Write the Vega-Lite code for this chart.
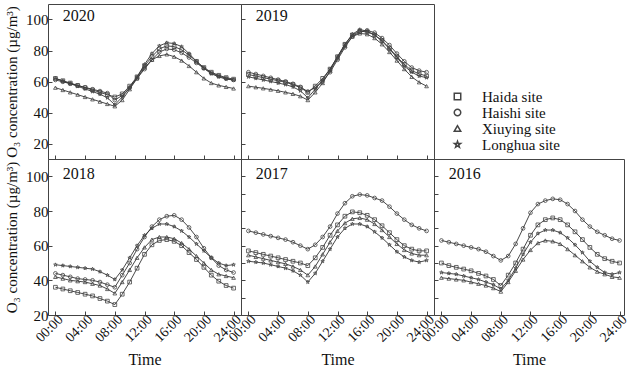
{
"$schema": "https://vega.github.io/schema/vega-lite/v6.json",
"background": "white",
"padding": {"left": 3, "top": 3, "right": 2, "bottom": 0},
"config": {
  "font": "Liberation Serif",
  "view": {"stroke": "#444", "strokeWidth": 1},
  "axis": {"grid": false, "domain": false, "tickColor": "#444", "tickSize": -4, "labelFont": "Liberation Serif", "labelFontSize": 15, "labelColor": "#111", "titleFont": "Liberation Serif", "titleFontSize": 15, "titleFontWeight": "normal", "titleColor": "#111", "labelPadding": 4},
  "legend": {"orient": "none", "legendX": 402, "legendY": 85, "labelFont": "Liberation Serif", "labelFontSize": 15, "labelColor": "#111", "labelOffset": 17, "symbolSize": 42, "rowPadding": 0}
},
"datasets": {
"lab": [
{"yr":2020,"h":1,"v":102.5},{"yr":2019,"h":1,"v":102.5},{"yr":2018,"h":1,"v":101.5},{"yr":2017,"h":1,"v":101.5},{"yr":2016,"h":1,"v":101.5}
],
"d": [
{"yr":2020,"site":"Haida site","h":0,"v":62},{"yr":2020,"site":"Haida site","h":1,"v":60.5},{"yr":2020,"site":"Haida site","h":2,"v":59},{"yr":2020,"site":"Haida site","h":3,"v":57.5},{"yr":2020,"site":"Haida site","h":4,"v":56},{"yr":2020,"site":"Haida site","h":5,"v":54.5},{"yr":2020,"site":"Haida site","h":6,"v":53},{"yr":2020,"site":"Haida site","h":7,"v":51.5},{"yr":2020,"site":"Haida site","h":8,"v":50},{"yr":2020,"site":"Haida site","h":9,"v":52},{"yr":2020,"site":"Haida site","h":10,"v":57},{"yr":2020,"site":"Haida site","h":11,"v":63},{"yr":2020,"site":"Haida site","h":12,"v":70},{"yr":2020,"site":"Haida site","h":13,"v":76},{"yr":2020,"site":"Haida site","h":14,"v":81},{"yr":2020,"site":"Haida site","h":15,"v":83},{"yr":2020,"site":"Haida site","h":16,"v":82.5},{"yr":2020,"site":"Haida site","h":17,"v":80.5},{"yr":2020,"site":"Haida site","h":18,"v":77},{"yr":2020,"site":"Haida site","h":19,"v":73},{"yr":2020,"site":"Haida site","h":20,"v":69},{"yr":2020,"site":"Haida site","h":21,"v":66},{"yr":2020,"site":"Haida site","h":22,"v":64},{"yr":2020,"site":"Haida site","h":23,"v":62.5},{"yr":2020,"site":"Haida site","h":24,"v":61.5},
{"yr":2020,"site":"Haishi site","h":0,"v":61},{"yr":2020,"site":"Haishi site","h":1,"v":59.8},{"yr":2020,"site":"Haishi site","h":2,"v":58.6},{"yr":2020,"site":"Haishi site","h":3,"v":57.4},{"yr":2020,"site":"Haishi site","h":4,"v":56.2},{"yr":2020,"site":"Haishi site","h":5,"v":55},{"yr":2020,"site":"Haishi site","h":6,"v":53.8},{"yr":2020,"site":"Haishi site","h":7,"v":52.5},{"yr":2020,"site":"Haishi site","h":8,"v":48},{"yr":2020,"site":"Haishi site","h":9,"v":51},{"yr":2020,"site":"Haishi site","h":10,"v":56},{"yr":2020,"site":"Haishi site","h":11,"v":62},{"yr":2020,"site":"Haishi site","h":12,"v":68},{"yr":2020,"site":"Haishi site","h":13,"v":74},{"yr":2020,"site":"Haishi site","h":14,"v":79},{"yr":2020,"site":"Haishi site","h":15,"v":81},{"yr":2020,"site":"Haishi site","h":16,"v":80.5},{"yr":2020,"site":"Haishi site","h":17,"v":78.5},{"yr":2020,"site":"Haishi site","h":18,"v":75.5},{"yr":2020,"site":"Haishi site","h":19,"v":72},{"yr":2020,"site":"Haishi site","h":20,"v":68.5},{"yr":2020,"site":"Haishi site","h":21,"v":65.5},{"yr":2020,"site":"Haishi site","h":22,"v":63.5},{"yr":2020,"site":"Haishi site","h":23,"v":62},{"yr":2020,"site":"Haishi site","h":24,"v":61},
{"yr":2020,"site":"Xiuying site","h":0,"v":56},{"yr":2020,"site":"Xiuying site","h":1,"v":54.5},{"yr":2020,"site":"Xiuying site","h":2,"v":53},{"yr":2020,"site":"Xiuying site","h":3,"v":51.5},{"yr":2020,"site":"Xiuying site","h":4,"v":50},{"yr":2020,"site":"Xiuying site","h":5,"v":48.5},{"yr":2020,"site":"Xiuying site","h":6,"v":47},{"yr":2020,"site":"Xiuying site","h":7,"v":45.5},{"yr":2020,"site":"Xiuying site","h":8,"v":44},{"yr":2020,"site":"Xiuying site","h":9,"v":48},{"yr":2020,"site":"Xiuying site","h":10,"v":55},{"yr":2020,"site":"Xiuying site","h":11,"v":62},{"yr":2020,"site":"Xiuying site","h":12,"v":69},{"yr":2020,"site":"Xiuying site","h":13,"v":74},{"yr":2020,"site":"Xiuying site","h":14,"v":76.5},{"yr":2020,"site":"Xiuying site","h":15,"v":77.5},{"yr":2020,"site":"Xiuying site","h":16,"v":76},{"yr":2020,"site":"Xiuying site","h":17,"v":73.5},{"yr":2020,"site":"Xiuying site","h":18,"v":70},{"yr":2020,"site":"Xiuying site","h":19,"v":66},{"yr":2020,"site":"Xiuying site","h":20,"v":62},{"yr":2020,"site":"Xiuying site","h":21,"v":59},{"yr":2020,"site":"Xiuying site","h":22,"v":57.5},{"yr":2020,"site":"Xiuying site","h":23,"v":56.5},{"yr":2020,"site":"Xiuying site","h":24,"v":55.5},
{"yr":2020,"site":"Longhua site","h":0,"v":62},{"yr":2020,"site":"Longhua site","h":1,"v":60.3},{"yr":2020,"site":"Longhua site","h":2,"v":58.6},{"yr":2020,"site":"Longhua site","h":3,"v":56.9},{"yr":2020,"site":"Longhua site","h":4,"v":55.2},{"yr":2020,"site":"Longhua site","h":5,"v":53.5},{"yr":2020,"site":"Longhua site","h":6,"v":51.8},{"yr":2020,"site":"Longhua site","h":7,"v":49.5},{"yr":2020,"site":"Longhua site","h":8,"v":45},{"yr":2020,"site":"Longhua site","h":9,"v":50},{"yr":2020,"site":"Longhua site","h":10,"v":56},{"yr":2020,"site":"Longhua site","h":11,"v":63},{"yr":2020,"site":"Longhua site","h":12,"v":71},{"yr":2020,"site":"Longhua site","h":13,"v":78},{"yr":2020,"site":"Longhua site","h":14,"v":83},{"yr":2020,"site":"Longhua site","h":15,"v":85},{"yr":2020,"site":"Longhua site","h":16,"v":84.5},{"yr":2020,"site":"Longhua site","h":17,"v":82.5},{"yr":2020,"site":"Longhua site","h":18,"v":78},{"yr":2020,"site":"Longhua site","h":19,"v":73},{"yr":2020,"site":"Longhua site","h":20,"v":68.5},{"yr":2020,"site":"Longhua site","h":21,"v":65},{"yr":2020,"site":"Longhua site","h":22,"v":63},{"yr":2020,"site":"Longhua site","h":23,"v":61.5},{"yr":2020,"site":"Longhua site","h":24,"v":61},
{"yr":2019,"site":"Haida site","h":0,"v":64.5},{"yr":2019,"site":"Haida site","h":1,"v":63.5},{"yr":2019,"site":"Haida site","h":2,"v":62.5},{"yr":2019,"site":"Haida site","h":3,"v":61.5},{"yr":2019,"site":"Haida site","h":4,"v":60.5},{"yr":2019,"site":"Haida site","h":5,"v":59.5},{"yr":2019,"site":"Haida site","h":6,"v":58},{"yr":2019,"site":"Haida site","h":7,"v":56},{"yr":2019,"site":"Haida site","h":8,"v":53},{"yr":2019,"site":"Haida site","h":9,"v":57},{"yr":2019,"site":"Haida site","h":10,"v":62},{"yr":2019,"site":"Haida site","h":11,"v":68},{"yr":2019,"site":"Haida site","h":12,"v":76},{"yr":2019,"site":"Haida site","h":13,"v":84},{"yr":2019,"site":"Haida site","h":14,"v":90},{"yr":2019,"site":"Haida site","h":15,"v":92.5},{"yr":2019,"site":"Haida site","h":16,"v":92},{"yr":2019,"site":"Haida site","h":17,"v":90},{"yr":2019,"site":"Haida site","h":18,"v":86.5},{"yr":2019,"site":"Haida site","h":19,"v":81.5},{"yr":2019,"site":"Haida site","h":20,"v":76},{"yr":2019,"site":"Haida site","h":21,"v":71},{"yr":2019,"site":"Haida site","h":22,"v":67},{"yr":2019,"site":"Haida site","h":23,"v":65},{"yr":2019,"site":"Haida site","h":24,"v":63.5},
{"yr":2019,"site":"Haishi site","h":0,"v":66},{"yr":2019,"site":"Haishi site","h":1,"v":64.8},{"yr":2019,"site":"Haishi site","h":2,"v":63.6},{"yr":2019,"site":"Haishi site","h":3,"v":62.4},{"yr":2019,"site":"Haishi site","h":4,"v":61.2},{"yr":2019,"site":"Haishi site","h":5,"v":60},{"yr":2019,"site":"Haishi site","h":6,"v":58.5},{"yr":2019,"site":"Haishi site","h":7,"v":56.5},{"yr":2019,"site":"Haishi site","h":8,"v":53.5},{"yr":2019,"site":"Haishi site","h":9,"v":56},{"yr":2019,"site":"Haishi site","h":10,"v":60},{"yr":2019,"site":"Haishi site","h":11,"v":66},{"yr":2019,"site":"Haishi site","h":12,"v":74},{"yr":2019,"site":"Haishi site","h":13,"v":82},{"yr":2019,"site":"Haishi site","h":14,"v":89},{"yr":2019,"site":"Haishi site","h":15,"v":92},{"yr":2019,"site":"Haishi site","h":16,"v":93},{"yr":2019,"site":"Haishi site","h":17,"v":91.5},{"yr":2019,"site":"Haishi site","h":18,"v":88},{"yr":2019,"site":"Haishi site","h":19,"v":83.5},{"yr":2019,"site":"Haishi site","h":20,"v":78},{"yr":2019,"site":"Haishi site","h":21,"v":73},{"yr":2019,"site":"Haishi site","h":22,"v":69},{"yr":2019,"site":"Haishi site","h":23,"v":67},{"yr":2019,"site":"Haishi site","h":24,"v":66},
{"yr":2019,"site":"Xiuying site","h":0,"v":57},{"yr":2019,"site":"Xiuying site","h":1,"v":56.3},{"yr":2019,"site":"Xiuying site","h":2,"v":55.6},{"yr":2019,"site":"Xiuying site","h":3,"v":54.8},{"yr":2019,"site":"Xiuying site","h":4,"v":54},{"yr":2019,"site":"Xiuying site","h":5,"v":53},{"yr":2019,"site":"Xiuying site","h":6,"v":52},{"yr":2019,"site":"Xiuying site","h":7,"v":50.5},{"yr":2019,"site":"Xiuying site","h":8,"v":48},{"yr":2019,"site":"Xiuying site","h":9,"v":53},{"yr":2019,"site":"Xiuying site","h":10,"v":59},{"yr":2019,"site":"Xiuying site","h":11,"v":67},{"yr":2019,"site":"Xiuying site","h":12,"v":75},{"yr":2019,"site":"Xiuying site","h":13,"v":83},{"yr":2019,"site":"Xiuying site","h":14,"v":89},{"yr":2019,"site":"Xiuying site","h":15,"v":91},{"yr":2019,"site":"Xiuying site","h":16,"v":90.5},{"yr":2019,"site":"Xiuying site","h":17,"v":88},{"yr":2019,"site":"Xiuying site","h":18,"v":84},{"yr":2019,"site":"Xiuying site","h":19,"v":79},{"yr":2019,"site":"Xiuying site","h":20,"v":73.5},{"yr":2019,"site":"Xiuying site","h":21,"v":68},{"yr":2019,"site":"Xiuying site","h":22,"v":63},{"yr":2019,"site":"Xiuying site","h":23,"v":59.5},{"yr":2019,"site":"Xiuying site","h":24,"v":57},
{"yr":2019,"site":"Longhua site","h":0,"v":63},{"yr":2019,"site":"Longhua site","h":1,"v":62},{"yr":2019,"site":"Longhua site","h":2,"v":61},{"yr":2019,"site":"Longhua site","h":3,"v":60},{"yr":2019,"site":"Longhua site","h":4,"v":59},{"yr":2019,"site":"Longhua site","h":5,"v":58},{"yr":2019,"site":"Longhua site","h":6,"v":56.5},{"yr":2019,"site":"Longhua site","h":7,"v":54},{"yr":2019,"site":"Longhua site","h":8,"v":49.5},{"yr":2019,"site":"Longhua site","h":9,"v":55},{"yr":2019,"site":"Longhua site","h":10,"v":61},{"yr":2019,"site":"Longhua site","h":11,"v":68},{"yr":2019,"site":"Longhua site","h":12,"v":76},{"yr":2019,"site":"Longhua site","h":13,"v":84},{"yr":2019,"site":"Longhua site","h":14,"v":90.5},{"yr":2019,"site":"Longhua site","h":15,"v":93.5},{"yr":2019,"site":"Longhua site","h":16,"v":92.5},{"yr":2019,"site":"Longhua site","h":17,"v":90},{"yr":2019,"site":"Longhua site","h":18,"v":86},{"yr":2019,"site":"Longhua site","h":19,"v":81},{"yr":2019,"site":"Longhua site","h":20,"v":75.5},{"yr":2019,"site":"Longhua site","h":21,"v":70},{"yr":2019,"site":"Longhua site","h":22,"v":66},{"yr":2019,"site":"Longhua site","h":23,"v":63.5},{"yr":2019,"site":"Longhua site","h":24,"v":62.5},
{"yr":2018,"site":"Haida site","h":0,"v":36},{"yr":2018,"site":"Haida site","h":1,"v":35},{"yr":2018,"site":"Haida site","h":2,"v":34},{"yr":2018,"site":"Haida site","h":3,"v":33},{"yr":2018,"site":"Haida site","h":4,"v":32},{"yr":2018,"site":"Haida site","h":5,"v":31},{"yr":2018,"site":"Haida site","h":6,"v":29.5},{"yr":2018,"site":"Haida site","h":7,"v":28},{"yr":2018,"site":"Haida site","h":8,"v":26},{"yr":2018,"site":"Haida site","h":9,"v":32},{"yr":2018,"site":"Haida site","h":10,"v":39},{"yr":2018,"site":"Haida site","h":11,"v":47},{"yr":2018,"site":"Haida site","h":12,"v":55},{"yr":2018,"site":"Haida site","h":13,"v":60.5},{"yr":2018,"site":"Haida site","h":14,"v":63},{"yr":2018,"site":"Haida site","h":15,"v":63.5},{"yr":2018,"site":"Haida site","h":16,"v":62.5},{"yr":2018,"site":"Haida site","h":17,"v":60},{"yr":2018,"site":"Haida site","h":18,"v":56},{"yr":2018,"site":"Haida site","h":19,"v":52},{"yr":2018,"site":"Haida site","h":20,"v":47.5},{"yr":2018,"site":"Haida site","h":21,"v":43},{"yr":2018,"site":"Haida site","h":22,"v":39.5},{"yr":2018,"site":"Haida site","h":23,"v":37},{"yr":2018,"site":"Haida site","h":24,"v":35.5},
{"yr":2018,"site":"Haishi site","h":0,"v":44},{"yr":2018,"site":"Haishi site","h":1,"v":43},{"yr":2018,"site":"Haishi site","h":2,"v":42},{"yr":2018,"site":"Haishi site","h":3,"v":41},{"yr":2018,"site":"Haishi site","h":4,"v":40.5},{"yr":2018,"site":"Haishi site","h":5,"v":40},{"yr":2018,"site":"Haishi site","h":6,"v":39},{"yr":2018,"site":"Haishi site","h":7,"v":37.5},{"yr":2018,"site":"Haishi site","h":8,"v":36},{"yr":2018,"site":"Haishi site","h":9,"v":43},{"yr":2018,"site":"Haishi site","h":10,"v":50},{"yr":2018,"site":"Haishi site","h":11,"v":58},{"yr":2018,"site":"Haishi site","h":12,"v":65},{"yr":2018,"site":"Haishi site","h":13,"v":71},{"yr":2018,"site":"Haishi site","h":14,"v":75},{"yr":2018,"site":"Haishi site","h":15,"v":77},{"yr":2018,"site":"Haishi site","h":16,"v":77.5},{"yr":2018,"site":"Haishi site","h":17,"v":75},{"yr":2018,"site":"Haishi site","h":18,"v":70.5},{"yr":2018,"site":"Haishi site","h":19,"v":65},{"yr":2018,"site":"Haishi site","h":20,"v":58.5},{"yr":2018,"site":"Haishi site","h":21,"v":53},{"yr":2018,"site":"Haishi site","h":22,"v":48.5},{"yr":2018,"site":"Haishi site","h":23,"v":46},{"yr":2018,"site":"Haishi site","h":24,"v":44.5},
{"yr":2018,"site":"Xiuying site","h":0,"v":42},{"yr":2018,"site":"Xiuying site","h":1,"v":41},{"yr":2018,"site":"Xiuying site","h":2,"v":40},{"yr":2018,"site":"Xiuying site","h":3,"v":39.5},{"yr":2018,"site":"Xiuying site","h":4,"v":39},{"yr":2018,"site":"Xiuying site","h":5,"v":38},{"yr":2018,"site":"Xiuying site","h":6,"v":37},{"yr":2018,"site":"Xiuying site","h":7,"v":35},{"yr":2018,"site":"Xiuying site","h":8,"v":32.5},{"yr":2018,"site":"Xiuying site","h":9,"v":39},{"yr":2018,"site":"Xiuying site","h":10,"v":46},{"yr":2018,"site":"Xiuying site","h":11,"v":53},{"yr":2018,"site":"Xiuying site","h":12,"v":59},{"yr":2018,"site":"Xiuying site","h":13,"v":63.5},{"yr":2018,"site":"Xiuying site","h":14,"v":65},{"yr":2018,"site":"Xiuying site","h":15,"v":65},{"yr":2018,"site":"Xiuying site","h":16,"v":64},{"yr":2018,"site":"Xiuying site","h":17,"v":61.5},{"yr":2018,"site":"Xiuying site","h":18,"v":58},{"yr":2018,"site":"Xiuying site","h":19,"v":54},{"yr":2018,"site":"Xiuying site","h":20,"v":50},{"yr":2018,"site":"Xiuying site","h":21,"v":46},{"yr":2018,"site":"Xiuying site","h":22,"v":43.5},{"yr":2018,"site":"Xiuying site","h":23,"v":42.5},{"yr":2018,"site":"Xiuying site","h":24,"v":41.5},
{"yr":2018,"site":"Longhua site","h":0,"v":49},{"yr":2018,"site":"Longhua site","h":1,"v":48.5},{"yr":2018,"site":"Longhua site","h":2,"v":48},{"yr":2018,"site":"Longhua site","h":3,"v":47.5},{"yr":2018,"site":"Longhua site","h":4,"v":47},{"yr":2018,"site":"Longhua site","h":5,"v":46.5},{"yr":2018,"site":"Longhua site","h":6,"v":45},{"yr":2018,"site":"Longhua site","h":7,"v":43},{"yr":2018,"site":"Longhua site","h":8,"v":40.5},{"yr":2018,"site":"Longhua site","h":9,"v":46},{"yr":2018,"site":"Longhua site","h":10,"v":53},{"yr":2018,"site":"Longhua site","h":11,"v":60},{"yr":2018,"site":"Longhua site","h":12,"v":66},{"yr":2018,"site":"Longhua site","h":13,"v":70},{"yr":2018,"site":"Longhua site","h":14,"v":72.5},{"yr":2018,"site":"Longhua site","h":15,"v":72.5},{"yr":2018,"site":"Longhua site","h":16,"v":71},{"yr":2018,"site":"Longhua site","h":17,"v":68.5},{"yr":2018,"site":"Longhua site","h":18,"v":65},{"yr":2018,"site":"Longhua site","h":19,"v":61},{"yr":2018,"site":"Longhua site","h":20,"v":57},{"yr":2018,"site":"Longhua site","h":21,"v":53},{"yr":2018,"site":"Longhua site","h":22,"v":50},{"yr":2018,"site":"Longhua site","h":23,"v":48.5},{"yr":2018,"site":"Longhua site","h":24,"v":49},
{"yr":2017,"site":"Haida site","h":0,"v":57},{"yr":2017,"site":"Haida site","h":1,"v":56},{"yr":2017,"site":"Haida site","h":2,"v":55},{"yr":2017,"site":"Haida site","h":3,"v":54},{"yr":2017,"site":"Haida site","h":4,"v":53},{"yr":2017,"site":"Haida site","h":5,"v":52},{"yr":2017,"site":"Haida site","h":6,"v":51},{"yr":2017,"site":"Haida site","h":7,"v":50},{"yr":2017,"site":"Haida site","h":8,"v":48.5},{"yr":2017,"site":"Haida site","h":9,"v":53},{"yr":2017,"site":"Haida site","h":10,"v":59},{"yr":2017,"site":"Haida site","h":11,"v":66},{"yr":2017,"site":"Haida site","h":12,"v":72},{"yr":2017,"site":"Haida site","h":13,"v":77},{"yr":2017,"site":"Haida site","h":14,"v":79.5},{"yr":2017,"site":"Haida site","h":15,"v":79},{"yr":2017,"site":"Haida site","h":16,"v":77.5},{"yr":2017,"site":"Haida site","h":17,"v":75},{"yr":2017,"site":"Haida site","h":18,"v":71.5},{"yr":2017,"site":"Haida site","h":19,"v":67.5},{"yr":2017,"site":"Haida site","h":20,"v":63.5},{"yr":2017,"site":"Haida site","h":21,"v":60},{"yr":2017,"site":"Haida site","h":22,"v":58},{"yr":2017,"site":"Haida site","h":23,"v":57},{"yr":2017,"site":"Haida site","h":24,"v":57},
{"yr":2017,"site":"Haishi site","h":0,"v":68.5},{"yr":2017,"site":"Haishi site","h":1,"v":67.5},{"yr":2017,"site":"Haishi site","h":2,"v":66.5},{"yr":2017,"site":"Haishi site","h":3,"v":65.5},{"yr":2017,"site":"Haishi site","h":4,"v":64.5},{"yr":2017,"site":"Haishi site","h":5,"v":63.5},{"yr":2017,"site":"Haishi site","h":6,"v":62},{"yr":2017,"site":"Haishi site","h":7,"v":60},{"yr":2017,"site":"Haishi site","h":8,"v":58},{"yr":2017,"site":"Haishi site","h":9,"v":60.5},{"yr":2017,"site":"Haishi site","h":10,"v":65},{"yr":2017,"site":"Haishi site","h":11,"v":71},{"yr":2017,"site":"Haishi site","h":12,"v":78.5},{"yr":2017,"site":"Haishi site","h":13,"v":84.5},{"yr":2017,"site":"Haishi site","h":14,"v":88.5},{"yr":2017,"site":"Haishi site","h":15,"v":89.5},{"yr":2017,"site":"Haishi site","h":16,"v":89},{"yr":2017,"site":"Haishi site","h":17,"v":87.5},{"yr":2017,"site":"Haishi site","h":18,"v":86},{"yr":2017,"site":"Haishi site","h":19,"v":82.5},{"yr":2017,"site":"Haishi site","h":20,"v":78.5},{"yr":2017,"site":"Haishi site","h":21,"v":75},{"yr":2017,"site":"Haishi site","h":22,"v":72},{"yr":2017,"site":"Haishi site","h":23,"v":70},{"yr":2017,"site":"Haishi site","h":24,"v":68.5},
{"yr":2017,"site":"Xiuying site","h":0,"v":54.5},{"yr":2017,"site":"Xiuying site","h":1,"v":53.5},{"yr":2017,"site":"Xiuying site","h":2,"v":52.5},{"yr":2017,"site":"Xiuying site","h":3,"v":51.5},{"yr":2017,"site":"Xiuying site","h":4,"v":50.5},{"yr":2017,"site":"Xiuying site","h":5,"v":49.5},{"yr":2017,"site":"Xiuying site","h":6,"v":48},{"yr":2017,"site":"Xiuying site","h":7,"v":46},{"yr":2017,"site":"Xiuying site","h":8,"v":43},{"yr":2017,"site":"Xiuying site","h":9,"v":48},{"yr":2017,"site":"Xiuying site","h":10,"v":55},{"yr":2017,"site":"Xiuying site","h":11,"v":62},{"yr":2017,"site":"Xiuying site","h":12,"v":68.5},{"yr":2017,"site":"Xiuying site","h":13,"v":73},{"yr":2017,"site":"Xiuying site","h":14,"v":75.5},{"yr":2017,"site":"Xiuying site","h":15,"v":76},{"yr":2017,"site":"Xiuying site","h":16,"v":75},{"yr":2017,"site":"Xiuying site","h":17,"v":72.5},{"yr":2017,"site":"Xiuying site","h":18,"v":69},{"yr":2017,"site":"Xiuying site","h":19,"v":65},{"yr":2017,"site":"Xiuying site","h":20,"v":61},{"yr":2017,"site":"Xiuying site","h":21,"v":57.5},{"yr":2017,"site":"Xiuying site","h":22,"v":55.5},{"yr":2017,"site":"Xiuying site","h":23,"v":54.5},{"yr":2017,"site":"Xiuying site","h":24,"v":54.5},
{"yr":2017,"site":"Longhua site","h":0,"v":51},{"yr":2017,"site":"Longhua site","h":1,"v":50.5},{"yr":2017,"site":"Longhua site","h":2,"v":50},{"yr":2017,"site":"Longhua site","h":3,"v":49},{"yr":2017,"site":"Longhua site","h":4,"v":48},{"yr":2017,"site":"Longhua site","h":5,"v":47},{"yr":2017,"site":"Longhua site","h":6,"v":45.5},{"yr":2017,"site":"Longhua site","h":7,"v":43},{"yr":2017,"site":"Longhua site","h":8,"v":39},{"yr":2017,"site":"Longhua site","h":9,"v":44},{"yr":2017,"site":"Longhua site","h":10,"v":51},{"yr":2017,"site":"Longhua site","h":11,"v":58},{"yr":2017,"site":"Longhua site","h":12,"v":65},{"yr":2017,"site":"Longhua site","h":13,"v":70},{"yr":2017,"site":"Longhua site","h":14,"v":72.5},{"yr":2017,"site":"Longhua site","h":15,"v":72.5},{"yr":2017,"site":"Longhua site","h":16,"v":71},{"yr":2017,"site":"Longhua site","h":17,"v":68},{"yr":2017,"site":"Longhua site","h":18,"v":64.5},{"yr":2017,"site":"Longhua site","h":19,"v":60.5},{"yr":2017,"site":"Longhua site","h":20,"v":56.5},{"yr":2017,"site":"Longhua site","h":21,"v":53.5},{"yr":2017,"site":"Longhua site","h":22,"v":51.5},{"yr":2017,"site":"Longhua site","h":23,"v":50.5},{"yr":2017,"site":"Longhua site","h":24,"v":51.5},
{"yr":2016,"site":"Haida site","h":0,"v":50},{"yr":2016,"site":"Haida site","h":1,"v":48.5},{"yr":2016,"site":"Haida site","h":2,"v":47.5},{"yr":2016,"site":"Haida site","h":3,"v":46.5},{"yr":2016,"site":"Haida site","h":4,"v":45.5},{"yr":2016,"site":"Haida site","h":5,"v":44},{"yr":2016,"site":"Haida site","h":6,"v":42.5},{"yr":2016,"site":"Haida site","h":7,"v":40.5},{"yr":2016,"site":"Haida site","h":8,"v":37},{"yr":2016,"site":"Haida site","h":9,"v":43},{"yr":2016,"site":"Haida site","h":10,"v":50},{"yr":2016,"site":"Haida site","h":11,"v":58},{"yr":2016,"site":"Haida site","h":12,"v":66},{"yr":2016,"site":"Haida site","h":13,"v":72},{"yr":2016,"site":"Haida site","h":14,"v":75},{"yr":2016,"site":"Haida site","h":15,"v":76},{"yr":2016,"site":"Haida site","h":16,"v":75},{"yr":2016,"site":"Haida site","h":17,"v":72},{"yr":2016,"site":"Haida site","h":18,"v":68},{"yr":2016,"site":"Haida site","h":19,"v":63.5},{"yr":2016,"site":"Haida site","h":20,"v":59},{"yr":2016,"site":"Haida site","h":21,"v":55},{"yr":2016,"site":"Haida site","h":22,"v":52.5},{"yr":2016,"site":"Haida site","h":23,"v":51},{"yr":2016,"site":"Haida site","h":24,"v":50},
{"yr":2016,"site":"Haishi site","h":0,"v":63},{"yr":2016,"site":"Haishi site","h":1,"v":62},{"yr":2016,"site":"Haishi site","h":2,"v":61},{"yr":2016,"site":"Haishi site","h":3,"v":60},{"yr":2016,"site":"Haishi site","h":4,"v":59},{"yr":2016,"site":"Haishi site","h":5,"v":58},{"yr":2016,"site":"Haishi site","h":6,"v":56.5},{"yr":2016,"site":"Haishi site","h":7,"v":54},{"yr":2016,"site":"Haishi site","h":8,"v":51.5},{"yr":2016,"site":"Haishi site","h":9,"v":54},{"yr":2016,"site":"Haishi site","h":10,"v":61},{"yr":2016,"site":"Haishi site","h":11,"v":70},{"yr":2016,"site":"Haishi site","h":12,"v":79},{"yr":2016,"site":"Haishi site","h":13,"v":84},{"yr":2016,"site":"Haishi site","h":14,"v":86},{"yr":2016,"site":"Haishi site","h":15,"v":87},{"yr":2016,"site":"Haishi site","h":16,"v":86.5},{"yr":2016,"site":"Haishi site","h":17,"v":84},{"yr":2016,"site":"Haishi site","h":18,"v":80},{"yr":2016,"site":"Haishi site","h":19,"v":75},{"yr":2016,"site":"Haishi site","h":20,"v":71},{"yr":2016,"site":"Haishi site","h":21,"v":68},{"yr":2016,"site":"Haishi site","h":22,"v":66},{"yr":2016,"site":"Haishi site","h":23,"v":64},{"yr":2016,"site":"Haishi site","h":24,"v":63},
{"yr":2016,"site":"Xiuying site","h":0,"v":41.5},{"yr":2016,"site":"Xiuying site","h":1,"v":41},{"yr":2016,"site":"Xiuying site","h":2,"v":40.5},{"yr":2016,"site":"Xiuying site","h":3,"v":40},{"yr":2016,"site":"Xiuying site","h":4,"v":39},{"yr":2016,"site":"Xiuying site","h":5,"v":38},{"yr":2016,"site":"Xiuying site","h":6,"v":37},{"yr":2016,"site":"Xiuying site","h":7,"v":35.5},{"yr":2016,"site":"Xiuying site","h":8,"v":33.5},{"yr":2016,"site":"Xiuying site","h":9,"v":39},{"yr":2016,"site":"Xiuying site","h":10,"v":45.5},{"yr":2016,"site":"Xiuying site","h":11,"v":52},{"yr":2016,"site":"Xiuying site","h":12,"v":57.5},{"yr":2016,"site":"Xiuying site","h":13,"v":61.5},{"yr":2016,"site":"Xiuying site","h":14,"v":63},{"yr":2016,"site":"Xiuying site","h":15,"v":62.5},{"yr":2016,"site":"Xiuying site","h":16,"v":61},{"yr":2016,"site":"Xiuying site","h":17,"v":58},{"yr":2016,"site":"Xiuying site","h":18,"v":54.5},{"yr":2016,"site":"Xiuying site","h":19,"v":51},{"yr":2016,"site":"Xiuying site","h":20,"v":47.5},{"yr":2016,"site":"Xiuying site","h":21,"v":45},{"yr":2016,"site":"Xiuying site","h":22,"v":43.5},{"yr":2016,"site":"Xiuying site","h":23,"v":42},{"yr":2016,"site":"Xiuying site","h":24,"v":41.5},
{"yr":2016,"site":"Longhua site","h":0,"v":44.5},{"yr":2016,"site":"Longhua site","h":1,"v":44},{"yr":2016,"site":"Longhua site","h":2,"v":43.5},{"yr":2016,"site":"Longhua site","h":3,"v":42.5},{"yr":2016,"site":"Longhua site","h":4,"v":41.5},{"yr":2016,"site":"Longhua site","h":5,"v":40.5},{"yr":2016,"site":"Longhua site","h":6,"v":39},{"yr":2016,"site":"Longhua site","h":7,"v":37.5},{"yr":2016,"site":"Longhua site","h":8,"v":35},{"yr":2016,"site":"Longhua site","h":9,"v":40},{"yr":2016,"site":"Longhua site","h":10,"v":47},{"yr":2016,"site":"Longhua site","h":11,"v":55},{"yr":2016,"site":"Longhua site","h":12,"v":62},{"yr":2016,"site":"Longhua site","h":13,"v":67},{"yr":2016,"site":"Longhua site","h":14,"v":69},{"yr":2016,"site":"Longhua site","h":15,"v":69},{"yr":2016,"site":"Longhua site","h":16,"v":67.5},{"yr":2016,"site":"Longhua site","h":17,"v":64.5},{"yr":2016,"site":"Longhua site","h":18,"v":60.5},{"yr":2016,"site":"Longhua site","h":19,"v":56},{"yr":2016,"site":"Longhua site","h":20,"v":51},{"yr":2016,"site":"Longhua site","h":21,"v":47.5},{"yr":2016,"site":"Longhua site","h":22,"v":44.5},{"yr":2016,"site":"Longhua site","h":23,"v":43.5},{"yr":2016,"site":"Longhua site","h":24,"v":44.5}
]
},
"columns": 3,
"spacing": 0,
"bounds": "flush",
"resolve": {"scale": {"shape": "shared"}, "legend": {"shape": "shared"}},
"concat": [
 {"width": 193, "height": 155,
  "encoding": {
   "x": {"field": "h", "type": "quantitative", "scale": {"domain": [-1, 25], "nice": false, "zero": false}, "axis": {"values": [0,4,8,12,16,20,24], "labels": false, "title": null}},
   "y": {"field": "v", "type": "quantitative", "scale": {"domain": [10, 110], "nice": false, "zero": false}, "axis": {"values": [20,40,60,80,100], "title": "O₃ concentration (µg/m³)", "titlePadding": 6}}
  },
  "layer": [
   {"data": {"name": "d"}, "transform": [{"filter": "datum.yr == 2020"}], "mark": {"type": "line", "color": "#333", "strokeWidth": 0.9}, "encoding": {"detail": {"field": "site"}}},
   {"data": {"name": "d"}, "transform": [{"filter": "datum.yr == 2020"}], "mark": {"type": "point", "filled": false, "color": "#444", "strokeWidth": 0.8, "size": 14, "opacity": 1},
    "encoding": {"shape": {"field": "site", "type": "nominal", "title": null, "scale": {"domain": ["Haida site","Haishi site","Xiuying site","Longhua site"], "range": ["square","circle","triangle-up","M0,-1L0.235,-0.324L0.951,-0.309L0.38,0.124L0.588,0.809L0,0.4L-0.588,0.809L-0.38,0.124L-0.951,-0.309L-0.235,-0.324Z"]},
     "legend": {"labelFont": "Liberation Serif", "labelFontSize": 15, "encode": {"symbols": {"shape": {"value": {"expr": "datum.value == 'Haida site' ? 'M-2,0H-0.6M0.6,0H2M-0.6,-0.6H0.6V0.6H-0.6Z' : datum.value == 'Haishi site' ? 'M-2,0H-0.6M0.6,0H2M-0.6,0A0.6,0.6,0,1,1,0.6,0A0.6,0.6,0,1,1,-0.6,0Z' : datum.value == 'Xiuying site' ? 'M-2,0H-0.6M0.6,0H2M0,-0.65L0.65,0.5H-0.65Z' : 'M-2,0H-0.6M0.6,0H2M0,-0.7L0.165,-0.227L0.666,-0.216L0.266,0.087L0.412,0.566L0,0.28L-0.412,0.566L-0.266,0.087L-0.666,-0.216L-0.165,-0.227Z'"}}}}}}}},
   {"data": {"name": "lab"}, "transform": [{"filter": "datum.yr == 2020"}], "mark": {"type": "text", "align": "left", "baseline": "middle", "font": "Liberation Serif", "fontSize": 16, "color": "#111"}, "encoding": {"text": {"field": "yr", "type": "nominal"}}}
  ]},
 {"width": 193, "height": 155,
  "encoding": {
   "x": {"field": "h", "type": "quantitative", "scale": {"domain": [-1, 25], "nice": false, "zero": false}, "axis": {"values": [0,4,8,12,16,20,24], "labels": false, "title": null}},
   "y": {"field": "v", "type": "quantitative", "scale": {"domain": [10, 110], "nice": false, "zero": false}, "axis": {"values": [20,40,60,80,100], "labels": false, "title": null}}
  },
  "layer": [
   {"data": {"name": "d"}, "transform": [{"filter": "datum.yr == 2019"}], "mark": {"type": "line", "color": "#333", "strokeWidth": 0.9}, "encoding": {"detail": {"field": "site"}}},
   {"data": {"name": "d"}, "transform": [{"filter": "datum.yr == 2019"}], "mark": {"type": "point", "filled": false, "color": "#444", "strokeWidth": 0.8, "size": 14, "opacity": 1},
    "encoding": {"shape": {"field": "site", "type": "nominal", "title": null, "scale": {"domain": ["Haida site","Haishi site","Xiuying site","Longhua site"], "range": ["square","circle","triangle-up","M0,-1L0.235,-0.324L0.951,-0.309L0.38,0.124L0.588,0.809L0,0.4L-0.588,0.809L-0.38,0.124L-0.951,-0.309L-0.235,-0.324Z"]},
     "legend": {"labelFont": "Liberation Serif", "labelFontSize": 15, "encode": {"symbols": {"shape": {"value": {"expr": "datum.value == 'Haida site' ? 'M-2,0H-0.6M0.6,0H2M-0.6,-0.6H0.6V0.6H-0.6Z' : datum.value == 'Haishi site' ? 'M-2,0H-0.6M0.6,0H2M-0.6,0A0.6,0.6,0,1,1,0.6,0A0.6,0.6,0,1,1,-0.6,0Z' : datum.value == 'Xiuying site' ? 'M-2,0H-0.6M0.6,0H2M0,-0.65L0.65,0.5H-0.65Z' : 'M-2,0H-0.6M0.6,0H2M0,-0.7L0.165,-0.227L0.666,-0.216L0.266,0.087L0.412,0.566L0,0.28L-0.412,0.566L-0.266,0.087L-0.666,-0.216L-0.165,-0.227Z'"}}}}}}}},
   {"data": {"name": "lab"}, "transform": [{"filter": "datum.yr == 2019"}], "mark": {"type": "text", "align": "left", "baseline": "middle", "font": "Liberation Serif", "fontSize": 16, "color": "#111"}, "encoding": {"text": {"field": "yr", "type": "nominal"}}}
  ]},
 {"width": 190, "height": 155, "data": {"values": []}, "mark": {"type": "point", "opacity": 0}, "view": {"stroke": null}},
 {"width": 193, "height": 156,
  "encoding": {
   "x": {"field": "h", "type": "quantitative", "scale": {"domain": [-1, 25], "nice": false, "zero": false}, "axis": {"values": [0,4,8,12,16,20,24], "labelExpr": "(datum.value < 10 ? '0' : '') + datum.value + ':00'", "labelAngle": -45, "labelFontSize": 14, "labelPadding": 1, "labelOverlap": false, "labelFlush": false, "title": "Time", "titleFontSize": 16, "titlePadding": 7}},
   "y": {"field": "v", "type": "quantitative", "scale": {"domain": [20, 110], "nice": false, "zero": false}, "axis": {"values": [20,40,60,80,100], "title": "O₃ concentration (µg/m³)", "titlePadding": 6}}
  },
  "layer": [
   {"data": {"name": "d"}, "transform": [{"filter": "datum.yr == 2018"}], "mark": {"type": "line", "color": "#333", "strokeWidth": 0.9}, "encoding": {"detail": {"field": "site"}}},
   {"data": {"name": "d"}, "transform": [{"filter": "datum.yr == 2018"}], "mark": {"type": "point", "filled": false, "color": "#444", "strokeWidth": 0.8, "size": 14, "opacity": 1},
    "encoding": {"shape": {"field": "site", "type": "nominal", "title": null, "scale": {"domain": ["Haida site","Haishi site","Xiuying site","Longhua site"], "range": ["square","circle","triangle-up","M0,-1L0.235,-0.324L0.951,-0.309L0.38,0.124L0.588,0.809L0,0.4L-0.588,0.809L-0.38,0.124L-0.951,-0.309L-0.235,-0.324Z"]},
     "legend": {"labelFont": "Liberation Serif", "labelFontSize": 15, "encode": {"symbols": {"shape": {"value": {"expr": "datum.value == 'Haida site' ? 'M-2,0H-0.6M0.6,0H2M-0.6,-0.6H0.6V0.6H-0.6Z' : datum.value == 'Haishi site' ? 'M-2,0H-0.6M0.6,0H2M-0.6,0A0.6,0.6,0,1,1,0.6,0A0.6,0.6,0,1,1,-0.6,0Z' : datum.value == 'Xiuying site' ? 'M-2,0H-0.6M0.6,0H2M0,-0.65L0.65,0.5H-0.65Z' : 'M-2,0H-0.6M0.6,0H2M0,-0.7L0.165,-0.227L0.666,-0.216L0.266,0.087L0.412,0.566L0,0.28L-0.412,0.566L-0.266,0.087L-0.666,-0.216L-0.165,-0.227Z'"}}}}}}}},
   {"data": {"name": "lab"}, "transform": [{"filter": "datum.yr == 2018"}], "mark": {"type": "text", "align": "left", "baseline": "middle", "font": "Liberation Serif", "fontSize": 16, "color": "#111"}, "encoding": {"text": {"field": "yr", "type": "nominal"}}}
  ]},
 {"width": 193, "height": 156,
  "encoding": {
   "x": {"field": "h", "type": "quantitative", "scale": {"domain": [-1, 25], "nice": false, "zero": false}, "axis": {"values": [0,4,8,12,16,20,24], "labelExpr": "(datum.value < 10 ? '0' : '') + datum.value + ':00'", "labelAngle": -45, "labelFontSize": 14, "labelPadding": 1, "labelOverlap": false, "labelFlush": false, "title": "Time", "titleFontSize": 16, "titlePadding": 7}},
   "y": {"field": "v", "type": "quantitative", "scale": {"domain": [20, 110], "nice": false, "zero": false}, "axis": {"values": [20,30,40,50,60,70,80,90,100], "labels": false, "title": null}}
  },
  "layer": [
   {"data": {"name": "d"}, "transform": [{"filter": "datum.yr == 2017"}], "mark": {"type": "line", "color": "#333", "strokeWidth": 0.9}, "encoding": {"detail": {"field": "site"}}},
   {"data": {"name": "d"}, "transform": [{"filter": "datum.yr == 2017"}], "mark": {"type": "point", "filled": false, "color": "#444", "strokeWidth": 0.8, "size": 14, "opacity": 1},
    "encoding": {"shape": {"field": "site", "type": "nominal", "title": null, "scale": {"domain": ["Haida site","Haishi site","Xiuying site","Longhua site"], "range": ["square","circle","triangle-up","M0,-1L0.235,-0.324L0.951,-0.309L0.38,0.124L0.588,0.809L0,0.4L-0.588,0.809L-0.38,0.124L-0.951,-0.309L-0.235,-0.324Z"]},
     "legend": {"labelFont": "Liberation Serif", "labelFontSize": 15, "encode": {"symbols": {"shape": {"value": {"expr": "datum.value == 'Haida site' ? 'M-2,0H-0.6M0.6,0H2M-0.6,-0.6H0.6V0.6H-0.6Z' : datum.value == 'Haishi site' ? 'M-2,0H-0.6M0.6,0H2M-0.6,0A0.6,0.6,0,1,1,0.6,0A0.6,0.6,0,1,1,-0.6,0Z' : datum.value == 'Xiuying site' ? 'M-2,0H-0.6M0.6,0H2M0,-0.65L0.65,0.5H-0.65Z' : 'M-2,0H-0.6M0.6,0H2M0,-0.7L0.165,-0.227L0.666,-0.216L0.266,0.087L0.412,0.566L0,0.28L-0.412,0.566L-0.266,0.087L-0.666,-0.216L-0.165,-0.227Z'"}}}}}}}},
   {"data": {"name": "lab"}, "transform": [{"filter": "datum.yr == 2017"}], "mark": {"type": "text", "align": "left", "baseline": "middle", "font": "Liberation Serif", "fontSize": 16, "color": "#111"}, "encoding": {"text": {"field": "yr", "type": "nominal"}}}
  ]},
 {"width": 190, "height": 156,
  "encoding": {
   "x": {"field": "h", "type": "quantitative", "scale": {"domain": [-1, 24.6], "nice": false, "zero": false}, "axis": {"values": [0,4,8,12,16,20,24], "labelExpr": "(datum.value < 10 ? '0' : '') + datum.value + ':00'", "labelAngle": -45, "labelFontSize": 14, "labelPadding": 1, "labelOverlap": false, "labelFlush": false, "title": "Time", "titleFontSize": 16, "titlePadding": 7}},
   "y": {"field": "v", "type": "quantitative", "scale": {"domain": [20, 110], "nice": false, "zero": false}, "axis": {"values": [20,30,40,50,60,70,80,90,100], "labels": false, "title": null}}
  },
  "layer": [
   {"data": {"name": "d"}, "transform": [{"filter": "datum.yr == 2016"}], "mark": {"type": "line", "color": "#333", "strokeWidth": 0.9}, "encoding": {"detail": {"field": "site"}}},
   {"data": {"name": "d"}, "transform": [{"filter": "datum.yr == 2016"}], "mark": {"type": "point", "filled": false, "color": "#444", "strokeWidth": 0.8, "size": 14, "opacity": 1},
    "encoding": {"shape": {"field": "site", "type": "nominal", "title": null, "scale": {"domain": ["Haida site","Haishi site","Xiuying site","Longhua site"], "range": ["square","circle","triangle-up","M0,-1L0.235,-0.324L0.951,-0.309L0.38,0.124L0.588,0.809L0,0.4L-0.588,0.809L-0.38,0.124L-0.951,-0.309L-0.235,-0.324Z"]},
     "legend": {"labelFont": "Liberation Serif", "labelFontSize": 15, "encode": {"symbols": {"shape": {"value": {"expr": "datum.value == 'Haida site' ? 'M-2,0H-0.6M0.6,0H2M-0.6,-0.6H0.6V0.6H-0.6Z' : datum.value == 'Haishi site' ? 'M-2,0H-0.6M0.6,0H2M-0.6,0A0.6,0.6,0,1,1,0.6,0A0.6,0.6,0,1,1,-0.6,0Z' : datum.value == 'Xiuying site' ? 'M-2,0H-0.6M0.6,0H2M0,-0.65L0.65,0.5H-0.65Z' : 'M-2,0H-0.6M0.6,0H2M0,-0.7L0.165,-0.227L0.666,-0.216L0.266,0.087L0.412,0.566L0,0.28L-0.412,0.566L-0.266,0.087L-0.666,-0.216L-0.165,-0.227Z'"}}}}}}}},
   {"data": {"name": "lab"}, "transform": [{"filter": "datum.yr == 2016"}], "mark": {"type": "text", "align": "left", "baseline": "middle", "font": "Liberation Serif", "fontSize": 16, "color": "#111"}, "encoding": {"text": {"field": "yr", "type": "nominal"}}}
  ]}
]
}
